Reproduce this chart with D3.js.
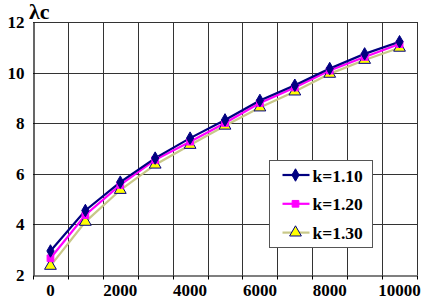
<!DOCTYPE html>
<html>
<head>
<meta charset="utf-8">
<script src="https://cdn.jsdelivr.net/npm/d3@7"></script>
<style>
  body { margin: 0; background: #fff; }
</style>
</head>
<body>
<div id="chart"></div>
<script>
const categories = [0, 1000, 2000, 3000, 4000, 5000, 6000, 7000, 8000, 9000, 10000]
const yTicks = [2, 4, 6, 8, 10, 12]
const xLabels = [0, 2000, 4000, 6000, 8000, 10000]

const k110 = [2.95, 4.55, 5.67, 6.62, 7.41, 8.13, 8.90, 9.50, 10.16, 10.74, 11.22]
const k120 = [2.66, 4.37, 5.56, 6.55, 7.27, 8.01, 8.80, 9.41, 10.08, 10.62, 11.13]
const k130 = [2.36, 4.10, 5.36, 6.36, 7.14, 7.90, 8.62, 9.25, 9.95, 10.50, 10.98]

const series = [
  { id: 'k=1.10', values: k110, line: '#000080', fill: '#000080', stroke: '#000080', symbol: d3.symbolDiamond, size: 45 },
  { id: 'k=1.20', values: k120, line: '#ff00ff', fill: '#ff00ff', stroke: '#ff00ff', symbol: d3.symbolSquare, size: 45 },
  { id: 'k=1.30', values: k130, line: '#c8c888', fill: '#ffff00', stroke: '#000080', symbol: d3.symbolTriangle, size: 60 }
]

const FONT = "'Liberation Serif', 'Times New Roman', 'DejaVu Serif', serif"

const width = 424, height = 300
const margin = { top: 22, right: 7, bottom: 25, left: 33 }

const svg = d3.select('#chart').append('svg')
  .attr('width', width)
  .attr('height', height)
  .style('display', 'block')

const x = d3.scaleBand()
  .domain(categories)
  .range([margin.left, width - margin.right])
  .padding(0)

const y = d3.scaleLinear()
  .domain([2, 12])
  .range([height - margin.bottom, margin.top])

const grid = svg.append('g').attr('class', 'grid').attr('stroke', '#333').attr('stroke-width', 1)

// vertical grid at category boundaries
const bounds = categories.map(c => x(c)).concat([x.range()[1]])
grid.selectAll('line.v')
  .data(bounds.slice(1))
  .join('line')
  .attr('class', 'v')
  .attr('x1', d => Math.round(d) + 0.5)
  .attr('x2', d => Math.round(d) + 0.5)
  .attr('y1', y(12))
  .attr('y2', y(2))

grid.selectAll('line.h')
  .data(yTicks.slice(1))
  .join('line')
  .attr('class', 'h')
  .attr('x1', x.range()[0])
  .attr('x2', x.range()[1])
  .attr('y1', d => Math.round(y(d)) + 0.5)
  .attr('y2', d => Math.round(y(d)) + 0.5)

// Y axis
svg.append('g')
  .attr('transform', `translate(${margin.left + 0.5},0)`)
  .call(d3.axisLeft(y).tickValues(yTicks).tickSize(0).tickPadding(9))
  .call(g => g.select('.domain').attr('stroke', '#000').attr('stroke-width', 1.2))
  .call(g => g.selectAll('text')
    .style('font-family', FONT)
    .style('font-weight', 'bold')
    .style('font-size', '17px')
    .attr('fill', '#000'))

// X axis
svg.append('g')
  .attr('transform', `translate(0,${Math.round(y(2)) + 0.5})`)
  .call(d3.axisBottom(x).tickValues([]).tickSizeOuter(0))
  .call(g => g.select('.domain').attr('stroke', '#000').attr('stroke-width', 1.2))
  .call(g => g.selectAll('line.tk')
    .data(bounds)
    .join('line')
    .attr('class', 'tk')
    .attr('stroke', '#000')
    .attr('x1', d => Math.round(d) + 0.5)
    .attr('x2', d => Math.round(d) + 0.5)
    .attr('y1', 0)
    .attr('y2', 4))
  .call(g => g.selectAll('text.lbl')
    .data(xLabels)
    .join('text')
    .attr('class', 'lbl')
    .attr('x', d => x(d) + x.bandwidth() / 2)
    .attr('y', 20.5)
    .attr('text-anchor', 'middle')
    .style('font-family', FONT)
    .style('font-weight', 'bold')
    .style('font-size', '17px')
    .attr('fill', '#000')
    .text(d => d))

// lines
const line = d3.line()
  .x((d, i) => x(categories[i]) + x.bandwidth() / 2)
  .y(d => y(d))

const seriesG = svg.append('g').attr('class', 'series')

seriesG.selectAll('path')
  .data(series.slice().reverse())
  .join('path')
  .attr('fill', 'none')
  .attr('stroke', d => d.line)
  .attr('stroke-width', 2.2)
  .attr('d', d => line(d.values))

series.slice().reverse().forEach(s => {
  seriesG.append('g')
    .selectAll('path')
    .data(s.values)
    .join('path')
    .attr('transform', (d, i) => `translate(${x(categories[i]) + x.bandwidth() / 2},${y(d)})`)
    .attr('d', d3.symbol(s.symbol, s.size))
    .attr('fill', s.fill)
    .attr('stroke', s.stroke)
    .attr('stroke-width', 1)
})

// legend
const legend = svg.append('g').attr('transform', 'translate(269.5,160.5)')
legend.append('rect')
  .attr('width', 103)
  .attr('height', 87)
  .attr('fill', '#fff')
  .attr('stroke', '#555')

const items = legend.selectAll('g')
  .data(series)
  .join('g')
  .attr('transform', (d, i) => `translate(0,${14.5 + i * 28.8})`)

items.append('line')
  .attr('x1', 13).attr('x2', 40)
  .attr('stroke', d => d.line)
  .attr('stroke-width', 2.2)

items.append('path')
  .attr('transform', 'translate(26,0)')
  .attr('d', d => d3.symbol(d.symbol, d.size)())
  .attr('fill', d => d.fill)
  .attr('stroke', d => d.stroke)

items.append('text')
  .attr('x', 43)
  .attr('y', 6.5)
  .style('font-family', FONT)
  .style('font-weight', 'bold')
  .style('font-size', '17.5px')
  .attr('fill', '#000')
  .text(d => d.id)

// y title
svg.append('text')
  .attr('x', 29)
  .attr('y', 19)
  .style('font-family', FONT)
  .style('font-weight', 'bold')
  .style('font-size', '22px')
  .attr('fill', '#000')
  .text('λc')
</script>
</body>
</html>
